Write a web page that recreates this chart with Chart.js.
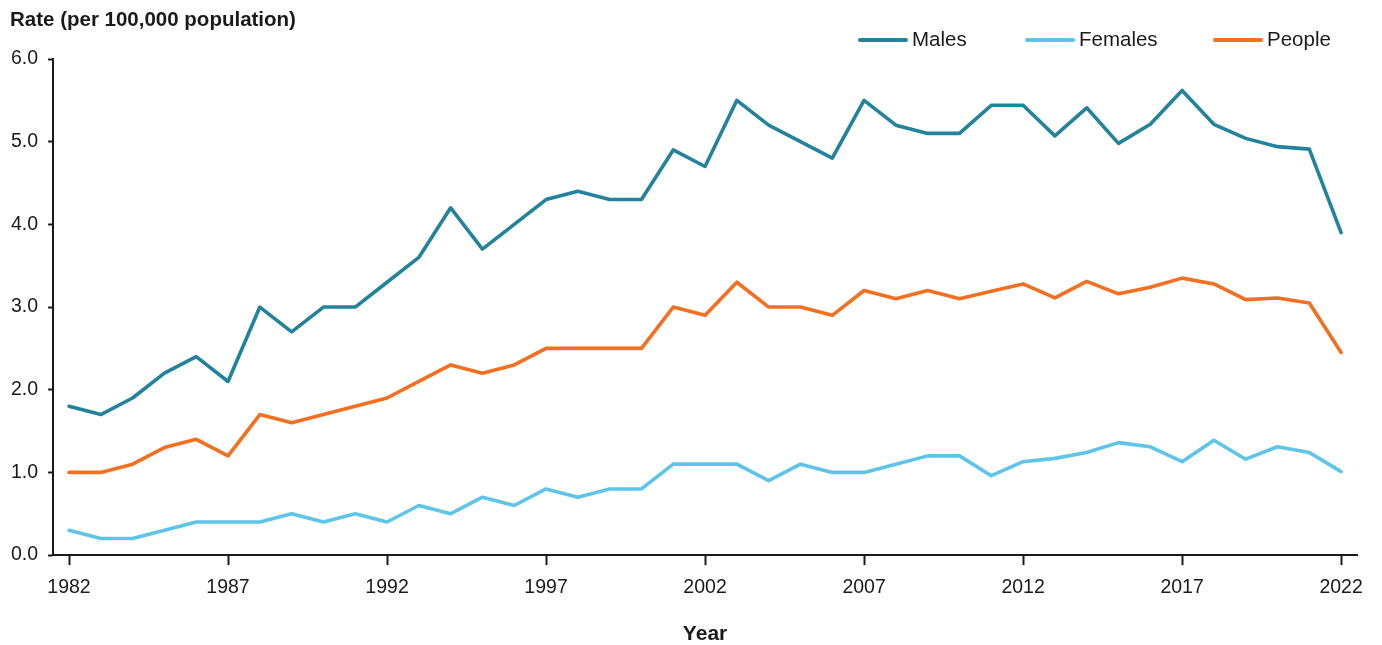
<!DOCTYPE html>
<html>
<head>
<meta charset="utf-8">
<title>Rate per 100,000 population, 1982–2022</title>
<script src="https://cdn.jsdelivr.net/npm/chart.js@4.4.1/dist/chart.umd.min.js"></script>
<style>
    html, body { margin: 0; padding: 0; background: #fff; }
    canvas { display: block; }
</style>
</head>
<body>
<canvas id="myChart" width="1382" height="645"></canvas>
<script>
const years = [
    '1982', '1983', '1984', '1985', '1986', '1987', '1988', '1989', '1990', '1991',
    '1992', '1993', '1994', '1995', '1996', '1997', '1998', '1999', '2000', '2001',
    '2002', '2003', '2004', '2005', '2006', '2007', '2008', '2009', '2010', '2011',
    '2012', '2013', '2014', '2015', '2016', '2017', '2018', '2019', '2020', '2021',
    '2022'
];

const males = [
    1.8, 1.7, 1.9, 2.2, 2.4, 2.1, 3.0, 2.7, 3.0, 3.0,
    3.3, 3.6, 4.2, 3.7, 4.0, 4.3, 4.4, 4.3, 4.3, 4.9,
    4.7, 5.5, 5.2, 5.0, 4.8, 5.5, 5.2, 5.1, 5.1, 5.44,
    5.44, 5.07, 5.41, 4.98, 5.21, 5.62, 5.21, 5.04, 4.94, 4.91,
    3.9
];

const females = [
    0.3, 0.2, 0.2, 0.3, 0.4, 0.4, 0.4, 0.5, 0.4, 0.5,
    0.4, 0.6, 0.5, 0.7, 0.6, 0.8, 0.7, 0.8, 0.8, 1.1,
    1.1, 1.1, 0.9, 1.1, 1.0, 1.0, 1.1, 1.2, 1.2, 0.96,
    1.13, 1.17, 1.24, 1.36, 1.31, 1.13, 1.39, 1.16, 1.31, 1.24,
    1.01
];

const people = [
    1.0, 1.0, 1.1, 1.3, 1.4, 1.2, 1.7, 1.6, 1.7, 1.8,
    1.9, 2.1, 2.3, 2.2, 2.3, 2.5, 2.5, 2.5, 2.5, 3.0,
    2.9, 3.3, 3.0, 3.0, 2.9, 3.2, 3.1, 3.2, 3.1, 3.19,
    3.28, 3.11, 3.31, 3.16, 3.24, 3.35, 3.28, 3.09, 3.11, 3.05,
    2.45
];

const yTicks = [0, 1, 2, 3, 4, 5, 6];

const seriesNames = ['Males', 'Females', 'People'];
const seriesColours = ['#23829c', '#5ec5e8', '#f37021'];

const FONT = "'Liberation Sans', Arial, sans-serif";
const INK = '#1a1a1a';

// y title and legend sit above the plot, drawn by hand so they land where the reference has them
const headerPlugin = {
    id: 'header',
    afterDraw(chart) {
        const ctx = chart.ctx;
        ctx.save();
        ctx.fillStyle = INK;
        ctx.font = 'bold 20.5px ' + FONT;
        ctx.textAlign = 'left';
        ctx.textBaseline = 'alphabetic';
        ctx.fillText('Rate (per 100,000 population)', 10, 26);

        const starts = [858, 1025, 1213];
        ctx.font = '20.5px ' + FONT;
        chart.data.datasets.forEach((ds, i) => {
            const x = starts[i];
            ctx.strokeStyle = ds.borderColor;
            ctx.lineWidth = 4;
            ctx.lineCap = 'round';
            ctx.beginPath();
            ctx.moveTo(x + 2, 40);
            ctx.lineTo(x + 48, 40);
            ctx.stroke();
            ctx.fillStyle = INK;
            ctx.fillText(ds.label, x + 54, 46);
        });
        ctx.restore();
    }
};

let ctx = document.getElementById('myChart').getContext('2d');

new Chart(ctx, {
    type: 'line',
    data: {
        labels: years,
        datasets: [males, females, people].map((values, i) => ({
            label: seriesNames[i],
            data: values,
            borderColor: seriesColours[i],
            backgroundColor: seriesColours[i],
            borderWidth: 3.6,
            borderJoinStyle: 'round',
            borderCapStyle: 'round',
            pointRadius: 0,
            tension: 0,
            fill: false
        }))
    },
    options: {
        responsive: false,
        animation: false,
        devicePixelRatio: 1,
        layout: {
            padding: { top: 59, left: 1, right: 25, bottom: 0 }
        },
        plugins: {
            legend: { display: false },
            title: { display: false },
            tooltip: { enabled: false }
        },
        scales: {
            x: {
                type: 'category',
                offset: true,
                border: { color: INK, width: 2 },
                grid: {
                    offset: false,
                    drawOnChartArea: false,
                    tickLength: 10,
                    tickColor: INK,
                    tickWidth: 2
                },
                afterFit: (axis) => {
                    // end labels may spill past the plot, as in the reference
                    axis.paddingLeft = 0;
                    axis.paddingRight = 0;
                },
                ticks: {
                    autoSkip: false,
                    maxRotation: 0,
                    padding: 11,
                    color: INK,
                    font: { family: FONT, size: 19.5 },
                    callback: function (value, index) {
                        const year = Number(this.getLabelForValue(value));
                        return (year - 1982) % 5 === 0 ? String(year) : null;
                    }
                },
                title: {
                    display: true,
                    text: 'Year',
                    color: INK,
                    font: { family: FONT, size: 21, weight: 'bold', lineHeight: 1.0 },
                    padding: { top: 13.5, bottom: 0 }
                }
            },
            y: {
                min: yTicks[0],
                max: yTicks[yTicks.length - 1],
                border: { color: INK, width: 2 },
                grid: {
                    drawOnChartArea: false,
                    tickLength: 5,
                    tickColor: INK,
                    tickWidth: 2
                },
                afterBuildTicks: (axis) => {
                    axis.ticks = yTicks.map(v => ({ value: v }));
                },
                ticks: {
                    padding: 10,
                    color: INK,
                    font: { family: FONT, size: 19.5 },
                    callback: (value) => Number(value).toFixed(1)
                }
            }
        }
    },
    plugins: [headerPlugin]
});
</script>
</body>
</html>
